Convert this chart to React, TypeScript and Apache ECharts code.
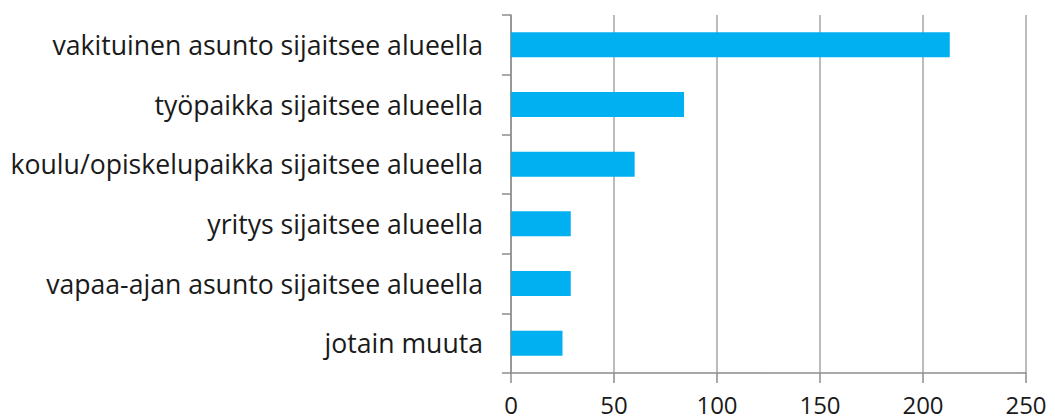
import React, { useEffect, useRef } from "react";
import * as echarts from "echarts";

const categories = [
  "vakituinen asunto sijaitsee alueella",
  "työpaikka sijaitsee alueella",
  "koulu/opiskelupaikka sijaitsee alueella",
  "yritys sijaitsee alueella",
  "vapaa-ajan asunto sijaitsee alueella",
  "jotain muuta",
];
const values = [213, 84, 60, 29, 29, 25];
const xTicks = [0, 50, 100, 150, 200, 250];

export default function App() {
  const ref = useRef<HTMLDivElement>(null);
  useEffect(() => {
    if (!ref.current) return;
    const chart = echarts.init(ref.current, undefined, { renderer: "svg" });
    const font = "'Open Sans', sans-serif";
    chart.setOption({
      animation: false,
      backgroundColor: "#ffffff",
      grid: { left: 511, right: 29, top: 15, bottom: 46, containLabel: false },
      xAxis: {
        type: "value",
        min: xTicks[0],
        max: xTicks[xTicks.length - 1],
        interval: 50,
        axisLine: { show: true, lineStyle: { color: "#8c8c8c", width: 1.5 } },
        axisTick: { show: true, length: 10, lineStyle: { color: "#8c8c8c", width: 1.5 } },
        splitLine: { show: true, lineStyle: { color: "#a6a6a6", width: 1.5 } },
        axisLabel: { color: "#1a1a1a", fontSize: 24, fontFamily: font, margin: 19 },
      },
      yAxis: {
        type: "category",
        data: categories,
        inverse: true,
        axisLine: { show: true, lineStyle: { color: "#8c8c8c", width: 1.5 } },
        axisTick: { show: true, length: 9, lineStyle: { color: "#8c8c8c", width: 1.5 } },
        axisLabel: { color: "#1a1a1a", fontSize: 26.6, fontFamily: font, margin: 28 },
      },
      series: [
        {
          type: "bar",
          data: values,
          barWidth: 25,
          itemStyle: { color: "#00b0f0" },
        },
      ],
    });
    return () => chart.dispose();
  }, []);
  return <div ref={ref} style={{ width: 1055, height: 419, marginLeft: -8, marginTop: -8 }} />;
}
